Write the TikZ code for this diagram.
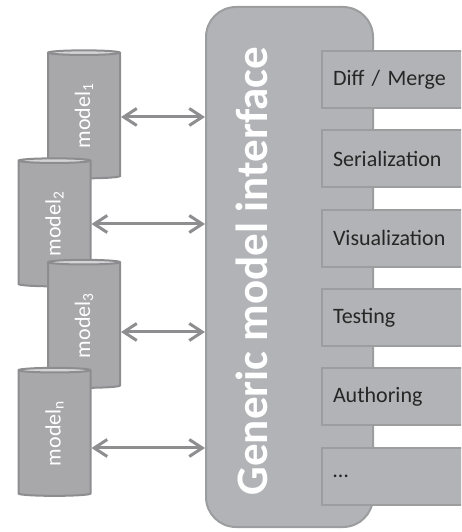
\documentclass[tikz,border=0pt]{standalone}
\usepackage{fontspec}
\setmainfont{Carlito}
\usetikzlibrary{shapes.geometric,arrows.meta}
\definecolor{ifacefill}{HTML}{B2B3B6}
\definecolor{ifaceline}{HTML}{9C9D9F}
\definecolor{cylfill}{HTML}{A8A8AA}
\definecolor{cyltop}{HTML}{D3D4D6}
\definecolor{cylline}{HTML}{8D8D8F}
\definecolor{linkcol}{HTML}{8E8E90}
\definecolor{labelcol}{HTML}{262626}
\tikzset{
  iface/.style={draw=ifaceline,fill=ifacefill,line width=2pt,rounded corners=30pt,
    minimum width=167pt,minimum height=520pt,inner sep=0pt},
  featbox/.style={draw=ifaceline,fill=ifacefill,line width=2pt,anchor=west,
    minimum height=57pt,text width=123pt,inner xsep=11pt,align=left,
    text=labelcol,font=\fontsize{22}{24}\selectfont},
  modelcyl/.style={shape=cylinder,rotate=90,draw=cylline,line width=2pt,
    cylinder uses custom fill,cylinder body fill=cylfill,cylinder end fill=cyltop,
    minimum width=72pt,minimum height=128pt,aspect=0.25,inner sep=0pt,
    text=white,font=\fontsize{22}{24}\selectfont},
  link/.style={draw=linkcol,line width=3pt,
    {Straight Barb[length=13pt,width=17pt,line width=3pt]}-{Straight Barb[length=13pt,width=17pt,line width=3pt]}}
}
\begin{document}
\begin{tikzpicture}[x=1pt,y=-1pt]
\useasboundingbox (0,0) rectangle (461,532);
\clip (0,0) rectangle (461,532);

% the interface
\node[iface] (gmi) at (289.5,267) {};
\node[rotate=90,text=white,font=\fontsize{45}{48}\selectfont\bfseries] (gmilabel) at (252,271) {Generic model interface};

% features
\foreach \name/\txt [count=\i from 0] in {diff/{Diff / Merge},ser/Serialization,vis/Visualization,test/Testing,auth/Authoring,more/\dots}
  \node[featbox] (\name) at (321,79.5+79.3*\i) {\txt};

% models
\node[modelcyl] (cyl1) at (84,116) {model\textsubscript{1}};
\node[modelcyl] (cyl2) at (54.5,224) {model\textsubscript{2}};
\node[modelcyl] (cyl3) at (84,325.5) {model\textsubscript{3}};
\node[modelcyl] (cyln) at (54.5,433.5) {model\textsubscript{n}};

% links
\foreach \c/\d in {cyl1/-1,cyl2/0,cyl3/-6.5,cyln/-14.5}
  \draw[link] ([yshift=\d pt]\c.south) -- ([yshift=\d pt]\c.south -| gmi.west);
\end{tikzpicture}
\end{document}
